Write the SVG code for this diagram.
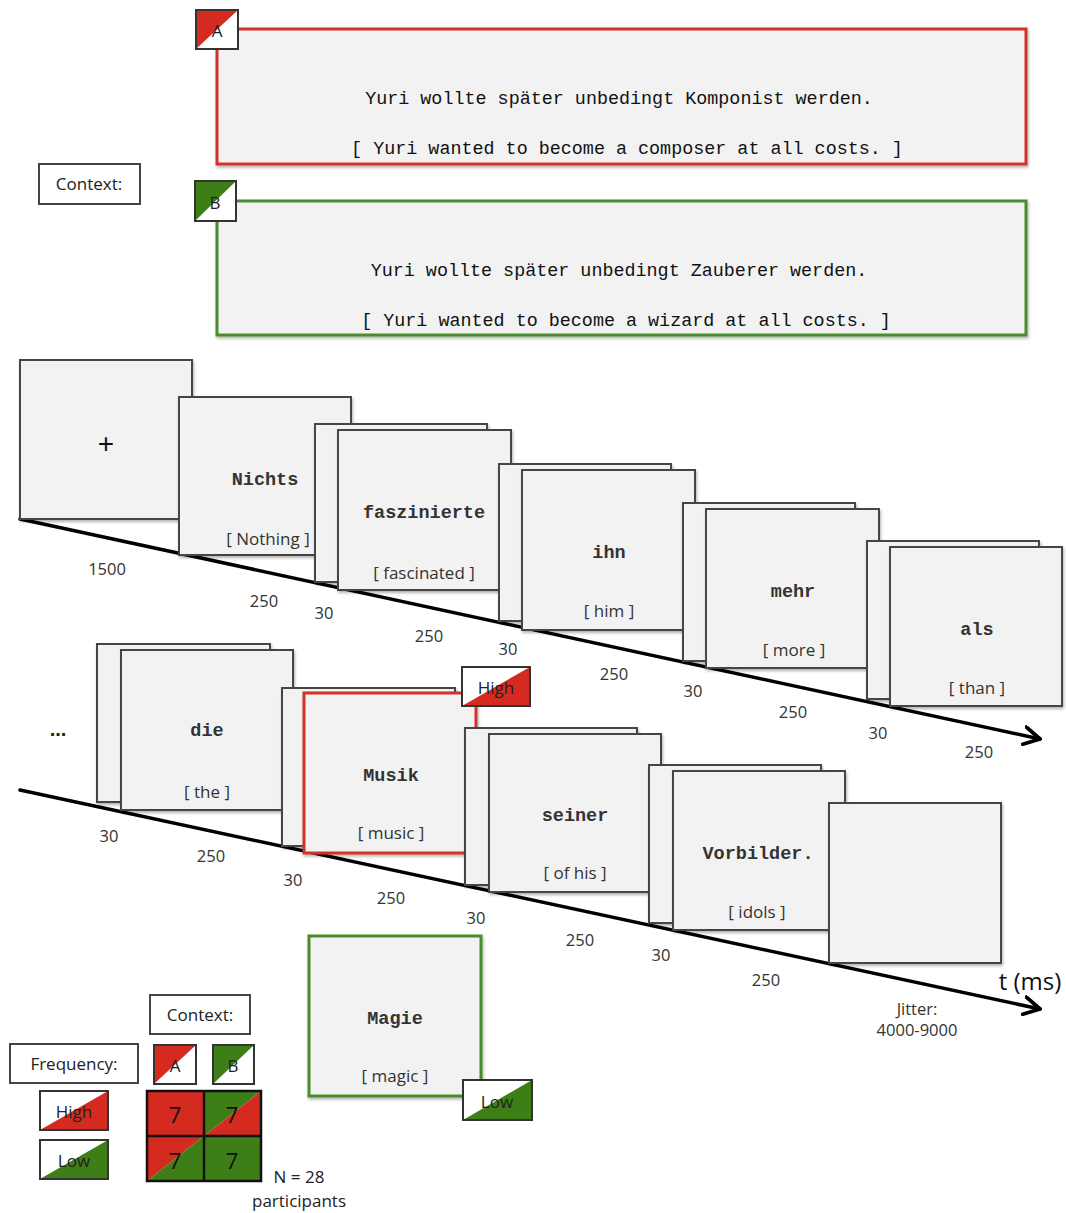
<svg xmlns="http://www.w3.org/2000/svg" width="1066" height="1213" viewBox="0 0 1066 1213">
<defs>
<filter id="sh" x="-10%" y="-10%" width="125%" height="125%">
<feDropShadow dx="1" dy="2" stdDeviation="1.5" flood-color="#000" flood-opacity="0.3"/>
</filter>
<marker id="arr" viewBox="0 0 12 12" refX="10" refY="6" markerWidth="6" markerHeight="6" orient="auto" markerUnits="strokeWidth">
<path d="M1,1 L10,6 L1,11" fill="none" stroke="#000" stroke-width="2.2" stroke-linecap="round" stroke-linejoin="round"/>
</marker>
</defs>
<style>
.slide{fill:#f2f2f2;stroke:#444;stroke-width:2;filter:url(#sh)}
.red{fill:#f2f2f2;stroke:#d3302a;stroke-width:3;filter:url(#sh)}
.grn{fill:#f2f2f2;stroke:#4a8c2a;stroke-width:3;filter:url(#sh)}
.lbl{fill:#fff;stroke:#444;stroke-width:2}
.bd{fill:none;stroke:#333;stroke-width:2}
.w{font-family:"Liberation Mono","Courier New",monospace;font-weight:bold;font-size:18.5px;fill:#333;text-anchor:middle}
.s{font-family:"Liberation Mono","Courier New",monospace;font-size:18.4px;fill:#111;text-anchor:middle}
.tr{font-family:"Open Sans","Liberation Sans",sans-serif;font-size:17px;fill:#333;text-anchor:middle}
.d{font-family:"Open Sans","Liberation Sans",sans-serif;font-size:16.5px;fill:#333;text-anchor:middle}
.bt{font-family:"Open Sans","Liberation Sans",sans-serif;font-size:17px;fill:#222;text-anchor:middle}
.sev{font-family:"Open Sans","Liberation Sans",sans-serif;font-size:22px;fill:#111;text-anchor:middle}
.rf{fill:#d42a1f}
.gf{fill:#3d7f16}
.axis{fill:none;stroke:#000;stroke-width:3.5;stroke-linecap:round}
</style>
<rect width="1066" height="1213" fill="#fff"/>

<!-- Context sentences -->
<g id="context-label">
<rect class="lbl" x="39" y="164" width="101" height="40"/>
<text class="bt" x="89" y="190">Context:</text>
</g>
<g id="context-A">
<rect class="red" x="217" y="29" width="809" height="135"/>
<text class="s" x="619" y="104">Yuri wollte später unbedingt Komponist werden.</text>
<text class="s" x="627" y="154">[ Yuri wanted to become a composer at all costs. ]</text>
</g>
<g id="badge-A-top">
<rect x="196" y="10" width="42" height="39" fill="#fff"/>
<polygon class="rf" points="196,49 196,10 238,10"/>
<rect class="bd" x="196" y="10" width="42" height="39"/>
<text class="bt" x="217" y="37" font-size="16">A</text>
</g>
<g id="context-B">
<rect class="grn" x="217" y="201" width="809" height="134"/>
<text class="s" x="619" y="276">Yuri wollte später unbedingt Zauberer werden.</text>
<text class="s" x="626" y="326">[ Yuri wanted to become a wizard at all costs. ]</text>
</g>
<g id="badge-B-top">
<rect x="195" y="181" width="41" height="40" fill="#fff"/>
<polygon class="gf" points="195,221 195,181 236,181"/>
<rect class="bd" x="195" y="181" width="41" height="40"/>
<text class="bt" x="215" y="209" font-size="16">B</text>
</g>

<!-- Timelines -->
<g id="connectors">
<line class="axis" x1="20" y1="519" x2="1040" y2="739" marker-end="url(#arr)"/>
<line class="axis" x1="20" y1="790" x2="1040" y2="1009" marker-end="url(#arr)"/>
<line x1="476" y1="706" x2="476" y2="694" stroke="#d3302a" stroke-width="3"/>
</g>

<!-- Row 1 -->
<g id="fixation">
<rect class="slide" x="20" y="360" width="172" height="159"/>
<text x="106" y="453" font-family="Liberation Sans,sans-serif" font-size="28" text-anchor="middle" fill="#111">+</text>
</g>
<g id="w-nichts">
<rect class="slide" x="179" y="397" width="172" height="158"/>
<text class="w" x="265" y="485">Nichts</text>
<text class="tr" x="268" y="545">[ Nothing ]</text>
</g>
<g id="w-faszinierte">
<rect class="slide" x="315" y="424" width="172" height="158"/>
<rect class="slide" x="338" y="430" width="173" height="160"/>
<text class="w" x="424" y="518">faszinierte</text>
<text class="tr" x="424" y="579">[ fascinated ]</text>
</g>
<g id="w-ihn">
<rect class="slide" x="499" y="464" width="172" height="157"/>
<rect class="slide" x="522" y="470" width="173" height="160"/>
<text class="w" x="609" y="558">ihn</text>
<text class="tr" x="609" y="617">[ him ]</text>
</g>
<g id="w-mehr">
<rect class="slide" x="683" y="503" width="172" height="158"/>
<rect class="slide" x="706" y="509" width="173" height="159"/>
<text class="w" x="793" y="597">mehr</text>
<text class="tr" x="794" y="656">[ more ]</text>
</g>
<g id="w-als">
<rect class="slide" x="867" y="541" width="172" height="158"/>
<rect class="slide" x="890" y="547" width="172" height="159"/>
<text class="w" x="977" y="635">als</text>
<text class="tr" x="977" y="694">[ than ]</text>
</g>
<g id="dur1">
<text class="d" x="107" y="575">1500</text>
<text class="d" x="264" y="607">250</text>
<text class="d" x="324" y="619">30</text>
<text class="d" x="429" y="642">250</text>
<text class="d" x="508" y="655">30</text>
<text class="d" x="614" y="680">250</text>
<text class="d" x="693" y="697">30</text>
<text class="d" x="793" y="718">250</text>
<text class="d" x="878" y="739">30</text>
<text class="d" x="979" y="758">250</text>
</g>

<!-- Row 2 -->
<g id="ellipsis"><text x="58" y="736" font-family="Liberation Sans,sans-serif" font-size="20" font-weight="bold" text-anchor="middle" fill="#222">...</text></g>
<g id="w-die">
<rect class="slide" x="97" y="644" width="173" height="158"/>
<rect class="slide" x="121" y="650" width="172" height="160"/>
<text class="w" x="207" y="736">die</text>
<text class="tr" x="207" y="798">[ the ]</text>
</g>
<g id="w-musik">
<rect class="slide" x="282" y="688" width="173" height="158"/>
<rect class="red" x="304" y="693" width="172" height="160"/>
<text class="w" x="391" y="781">Musik</text>
<text class="tr" x="391" y="839">[ music ]</text>
</g>
<g id="badge-high">
<rect x="462" y="667" width="68" height="39" fill="#fff"/>
<polygon class="rf" points="462,706 530,667 530,706"/>
<rect class="bd" x="462" y="667" width="68" height="39"/>
<text class="bt" x="496" y="694" font-size="17">High</text>
</g>
<g id="w-seiner">
<rect class="slide" x="465" y="728" width="172" height="157"/>
<rect class="slide" x="489" y="734" width="172" height="158"/>
<text class="w" x="575" y="821">seiner</text>
<text class="tr" x="575" y="879">[ of his ]</text>
</g>
<g id="w-vorbilder">
<rect class="slide" x="649" y="765" width="172" height="158"/>
<rect class="slide" x="673" y="771" width="172" height="159"/>
<text class="w" x="758" y="859">Vorbilder.</text>
<text class="tr" x="757" y="918">[ idols ]</text>
</g>
<g id="blank-end">
<rect class="slide" x="829" y="803" width="172" height="160"/>
</g>
<g id="w-magie">
<rect class="grn" x="309" y="936" width="172" height="160"/>
<text class="w" x="395" y="1024">Magie</text>
<text class="tr" x="395" y="1082">[ magic ]</text>
</g>
<g id="badge-low">
<rect x="463" y="1080" width="69" height="40" fill="#fff"/>
<polygon class="gf" points="463,1120 532,1080 532,1120"/>
<rect class="bd" x="463" y="1080" width="69" height="40"/>
<text class="bt" x="497" y="1108" font-size="17">Low</text>
</g>
<g id="dur2">
<text class="d" x="109" y="842">30</text>
<text class="d" x="211" y="862">250</text>
<text class="d" x="293" y="886">30</text>
<text class="d" x="391" y="904">250</text>
<text class="d" x="476" y="924">30</text>
<text class="d" x="580" y="946">250</text>
<text class="d" x="661" y="961">30</text>
<text class="d" x="766" y="986">250</text>
<text class="d" x="917" y="1015" font-size="15">Jitter:</text>
<text class="d" x="917" y="1036" font-size="15">4000-9000</text>
<text x="1030" y="990" font-family="Open Sans,Liberation Sans,sans-serif" font-size="24" text-anchor="middle" fill="#111">t (ms)</text>
</g>

<!-- Legend -->
<g id="legend-context">
<rect class="lbl" x="150" y="995" width="100" height="39"/>
<text class="bt" x="200" y="1021">Context:</text>
</g>
<g id="legend-frequency">
<rect class="lbl" x="10" y="1044" width="128" height="39"/>
<text class="bt" x="74" y="1070">Frequency:</text>
</g>
<g id="legend-A">
<rect x="154" y="1045" width="42" height="39" fill="#fff"/>
<polygon class="rf" points="154,1084 154,1045 196,1045"/>
<rect class="bd" x="154" y="1045" width="42" height="39"/>
<text class="bt" x="175" y="1072" font-size="16">A</text>
</g>
<g id="legend-B">
<rect x="213" y="1045" width="41" height="39" fill="#fff"/>
<polygon class="gf" points="213,1084 213,1045 254,1045"/>
<rect class="bd" x="213" y="1045" width="41" height="39"/>
<text class="bt" x="233" y="1072" font-size="16">B</text>
</g>
<g id="legend-high">
<rect x="40" y="1091" width="68" height="39" fill="#fff"/>
<polygon class="rf" points="40,1130 108,1091 108,1130"/>
<rect class="bd" x="40" y="1091" width="68" height="39"/>
<text class="bt" x="74" y="1118">High</text>
</g>
<g id="legend-low">
<rect x="40" y="1140" width="68" height="39" fill="#fff"/>
<polygon class="gf" points="40,1179 108,1140 108,1179"/>
<rect class="bd" x="40" y="1140" width="68" height="39"/>
<text class="bt" x="74" y="1167">Low</text>
</g>
<g id="legend-grid">
<rect class="rf" x="147" y="1091" width="57" height="45"/>
<polygon class="gf" points="204,1091 261,1091 204,1136"/>
<polygon class="rf" points="261,1091 261,1136 204,1136"/>
<polygon class="rf" points="147,1136 204,1136 147,1181"/>
<polygon class="gf" points="204,1136 204,1181 147,1181"/>
<rect class="gf" x="204" y="1136" width="57" height="45"/>
<rect x="147" y="1091" width="114" height="90" fill="none" stroke="#111" stroke-width="2.5"/>
<line x1="204" y1="1091" x2="204" y2="1181" stroke="#111" stroke-width="2.5"/>
<line x1="147" y1="1136" x2="261" y2="1136" stroke="#111" stroke-width="2.5"/>
<text class="sev" x="175" y="1123">7</text>
<text class="sev" x="232" y="1123">7</text>
<text class="sev" x="175" y="1169">7</text>
<text class="sev" x="232" y="1169">7</text>
</g>
<g id="legend-n">
<text class="bt" x="299" y="1183">N = 28</text>
<text class="bt" x="299" y="1207">participants</text>
</g>
</svg>
